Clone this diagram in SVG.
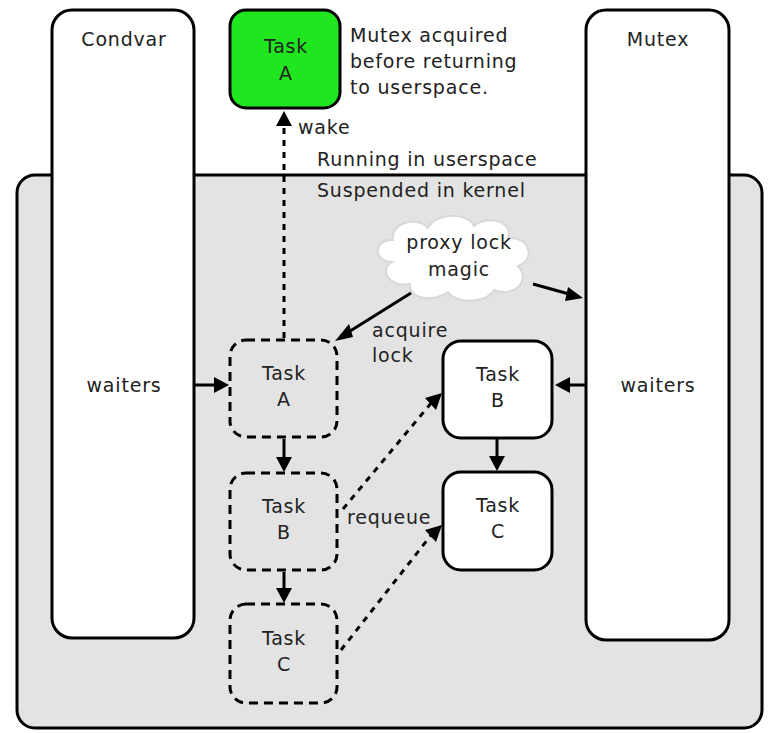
<svg xmlns="http://www.w3.org/2000/svg" width="769" height="733" viewBox="0 0 769 733">
<defs>
<style>
text{font-family:"DejaVu Sans","Liberation Sans",sans-serif;font-size:19px;letter-spacing:0.8px;fill:#222;text-anchor:middle}
.l{text-anchor:start}
.col{fill:#fff;stroke:#000;stroke-width:3}
.task{fill:#fff;stroke:#000;stroke-width:3}
.dtask{fill:none;stroke:#000;stroke-width:3;stroke-dasharray:9 6}
.ln{stroke:#000;stroke-width:3;fill:none}
.dot{stroke:#000;stroke-width:3;fill:none;stroke-dasharray:6 6}
</style>
</defs>
<rect width="769" height="733" fill="#fff"/>
<g id="kernel"><rect x="17" y="175" width="745" height="553" rx="18" fill="#e3e3e3" stroke="#000" stroke-width="3"/></g>
<g id="condvar"><rect class="col" x="52" y="10" width="142" height="628" rx="20"/><text x="124" y="46">Condvar</text><text x="124" y="392">waiters</text></g>
<g id="mutex"><rect class="col" x="586" y="10" width="143" height="630" rx="20"/><text x="658" y="46">Mutex</text><text x="658" y="392">waiters</text></g>
<g id="taskA-user"><rect x="230" y="10" width="110" height="98" rx="16" fill="#1fe61f" stroke="#000" stroke-width="3"/><text x="286" y="53">Task</text><text x="286" y="80">A</text></g>
<g id="note"><text class="l" x="350" y="42">Mutex acquired</text><text class="l" x="350" y="68">before returning</text><text class="l" x="350" y="94">to userspace.</text></g>
<g id="labels"><text class="l" x="298" y="134">wake</text><text class="l" x="317" y="166">Running in userspace</text><text class="l" x="317" y="197">Suspended in kernel</text><text class="l" x="372" y="337">acquire</text><text class="l" x="372" y="362">lock</text><text class="l" x="347" y="524">requeue</text></g>
<g id="cloud"><path d="M392,262 C372,262 374,238 393,240 C390,222 418,216 428,228 C436,212 468,212 474,226 C488,214 514,222 508,238 C530,236 536,260 518,266 C532,282 512,298 494,290 C486,304 456,304 448,292 C436,302 408,300 410,284 C390,288 378,270 392,262 Z" fill="#fff" stroke="#d8d8d8" stroke-width="2"/><text x="459" y="249">proxy lock</text><text x="459" y="276">magic</text></g>
<g id="taskA-k"><rect class="dtask" x="230" y="340" width="107" height="97" rx="16"/><text x="284" y="380">Task</text><text x="284" y="406">A</text></g>
<g id="taskB-k"><rect class="dtask" x="230" y="473" width="107" height="97" rx="16"/><text x="284" y="513">Task</text><text x="284" y="539">B</text></g>
<g id="taskC-k"><rect class="dtask" x="230" y="604" width="107" height="99" rx="16"/><text x="284" y="645">Task</text><text x="284" y="671">C</text></g>
<g id="taskB-m"><rect class="task" x="443" y="341" width="109" height="97" rx="18"/><text x="498" y="381">Task</text><text x="498" y="407">B</text></g>
<g id="taskC-m"><rect class="task" x="443" y="472" width="109" height="98" rx="18"/><text x="498" y="512">Task</text><text x="498" y="538">C</text></g>
<g id="connectors">
<path class="dot" d="M284,338V124"/><path d="M276,126L284,111L292,126z" fill="#000"/>
<path class="ln" d="M194,385H216"/><path d="M214,377L229,385L214,393z" fill="#000"/>
<path class="ln" d="M586,385H568"/><path d="M570,377L555,385L570,393z" fill="#000"/>
<path class="ln" d="M284,439V458"/><path d="M276,457L284,472L292,457z" fill="#000"/>
<path class="ln" d="M284,572V590"/><path d="M276,588L284,603L292,588z" fill="#000"/>
<path class="ln" d="M497,439V457"/><path d="M489,456L497,471L505,456z" fill="#000"/>
<path class="ln" d="M411,293L347,333"/><path d="M349,324L335,341L353,337z" fill="#000"/>
<path class="ln" d="M533,284L569,294"/><path d="M568,287L583,298L565,301z" fill="#000"/>
<path class="dot" d="M343,509L432,402"/><path d="M425,398L442,393L436,410z" fill="#000"/>
<path class="dot" d="M341,650L432,534"/><path d="M425,530L442,525L436,542z" fill="#000"/>
</g>
</svg>
